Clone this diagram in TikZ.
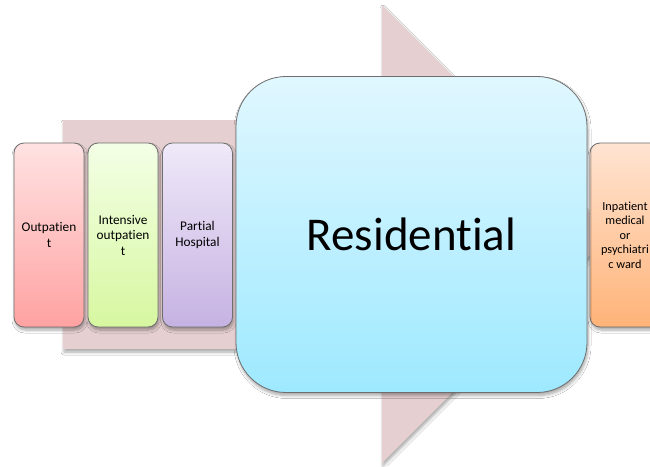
\documentclass[tikz,border=0pt]{standalone}
\usepackage{fontspec}
\setmainfont[RawFeature=-liga]{Carlito}
\usetikzlibrary{shadows.blur}
\definecolor{arrowpink}{HTML}{E6CFD0}
\definecolor{edgegrey}{HTML}{6E6E6E}
\definecolor{outTop}{HTML}{FFE2E2}
\definecolor{outBot}{HTML}{FFA2A2}
\definecolor{intTop}{HTML}{F3FFE6}
\definecolor{intBot}{HTML}{D7F7A0}
\definecolor{parTop}{HTML}{EFE9F9}
\definecolor{parBot}{HTML}{C6B2E2}
\definecolor{resTop}{HTML}{E0F7FF}
\definecolor{resBot}{HTML}{9EE9FF}
\definecolor{inpTop}{HTML}{FFE4D2}
\definecolor{inpBot}{HTML}{FFB378}
\tikzset{
  softshadow/.style={blur shadow={shadow xshift=1pt, shadow yshift=-3pt,
      shadow blur steps=6, shadow blur radius=3pt, shadow opacity=35}},
  levelbox/.style={draw=edgegrey, line width=0.8pt, rounded corners=10pt,
      minimum width=70pt, minimum height=184pt, align=center,
      font=\fontsize{13.3}{15.5}\selectfont, inner sep=2pt, softshadow},
  bigbox/.style={draw=edgegrey, line width=0.8pt, rounded corners=50pt,
      minimum width=351pt, minimum height=316pt,
      font=\fontsize{47}{56}\selectfont, softshadow},
}
\begin{document}
\begin{tikzpicture}[x=1pt, y=-1pt]
  \useasboundingbox (0,0) rectangle (650,466);
  \clip (0,0) rectangle (650,466);
  \fill[white] (0,0) rectangle (650,466);

  % broad background arrow
  \fill[arrowpink, softshadow]
    (63,120) -- (382,120) -- (382,5) -- (611,234) -- (382,463)
    -- (382,349) -- (63,349) -- cycle;

  % levels of care
  \node[levelbox, top color=outTop, bottom color=outBot] (out) at (49,235)
    {Outpatien\\t};
  \node[levelbox, top color=intTop, bottom color=intBot] (int) at (123,235)
    {Intensive\\outpatien\\t};
  \node[levelbox, top color=parTop, bottom color=parBot] (par) at (197.5,235)
    {Partial\\Hospital};
  \node[levelbox, top color=inpTop, bottom color=inpBot,
        font=\fontsize{12.3}{14.5}\selectfont] (inp) at (625,235)
    {Inpatient\\medical\\or\\psychiatri\\c ward};
  \node[bigbox, top color=resTop, bottom color=resBot] (res) at (411.5,234.5)
    {Residential};
\end{tikzpicture}
\end{document}
